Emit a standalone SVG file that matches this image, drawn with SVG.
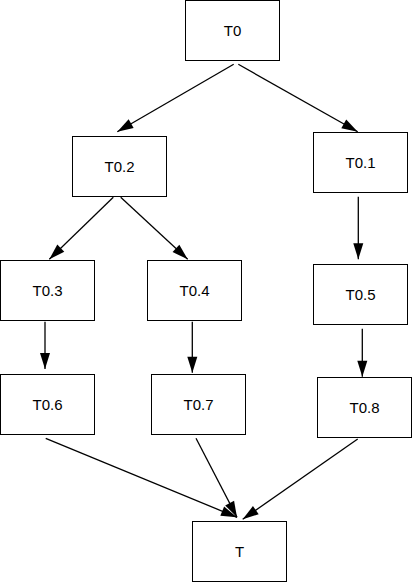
<svg xmlns="http://www.w3.org/2000/svg" width="412" height="582" viewBox="0 0 412 582">
<style>
.node rect{fill:#fff;stroke:#000;stroke-width:1}
.node text{font-family:"Liberation Sans",Arial,sans-serif;font-size:15px;fill:#000;text-anchor:middle}
.edge{stroke:#000;stroke-width:1.3;fill:none;marker-end:url(#arr)}
</style>
<defs>
<marker id="arr" markerUnits="userSpaceOnUse" markerWidth="17" markerHeight="11" refX="16" refY="5" orient="auto" overflow="visible">
<path d="M0,0 L16,5 L0,10 z" fill="#000"/>
</marker>
</defs>
<rect width="412" height="582" fill="#fff"/>
<g id="connectors">
<line class="edge" x1="233.7" y1="64.3" x2="117.3" y2="131.7"/>
<line class="edge" x1="238.3" y1="64.3" x2="357.7" y2="131.7"/>
<line class="edge" x1="113.3" y1="197.3" x2="49.3" y2="259.3"/>
<line class="edge" x1="120.7" y1="197.3" x2="187.7" y2="259.3"/>
<line class="edge" x1="358.3" y1="196.7" x2="358.3" y2="259.3"/>
<line class="edge" x1="45" y1="321.7" x2="45" y2="369"/>
<line class="edge" x1="192.3" y1="321.7" x2="192.3" y2="372.7"/>
<line class="edge" x1="362.3" y1="328.7" x2="362.3" y2="376.7"/>
<line class="edge" x1="45.7" y1="438.3" x2="237" y2="517.3"/>
<line class="edge" x1="196" y1="438.3" x2="237" y2="517.3"/>
<line class="edge" x1="357.7" y1="439" x2="242.7" y2="519.3"/>
</g>
<g id="T0" class="node"><rect x="185.5" y="0.5" width="94" height="60"/><text x="232.5" y="36">T0</text></g>
<g id="T0.2" class="node"><rect x="72.5" y="136.5" width="94" height="60"/><text x="119.5" y="172">T0.2</text></g>
<g id="T0.1" class="node"><rect x="313.5" y="132.5" width="94" height="60"/><text x="360.5" y="168">T0.1</text></g>
<g id="T0.3" class="node"><rect x="0.5" y="260.5" width="94" height="60"/><text x="47.5" y="296">T0.3</text></g>
<g id="T0.4" class="node"><rect x="147.5" y="260.5" width="94" height="60"/><text x="194.5" y="296">T0.4</text></g>
<g id="T0.5" class="node"><rect x="313.5" y="264.5" width="94" height="60"/><text x="360.5" y="300">T0.5</text></g>
<g id="T0.6" class="node"><rect x="0.5" y="374.5" width="94" height="60"/><text x="47.5" y="410">T0.6</text></g>
<g id="T0.7" class="node"><rect x="151.5" y="374.5" width="94" height="60"/><text x="198.5" y="410">T0.7</text></g>
<g id="T0.8" class="node"><rect x="317.5" y="377.5" width="94" height="60"/><text x="364.5" y="413">T0.8</text></g>
<g id="T" class="node"><rect x="192.5" y="521.5" width="94" height="60"/><text x="239.5" y="557">T</text></g>
</svg>
